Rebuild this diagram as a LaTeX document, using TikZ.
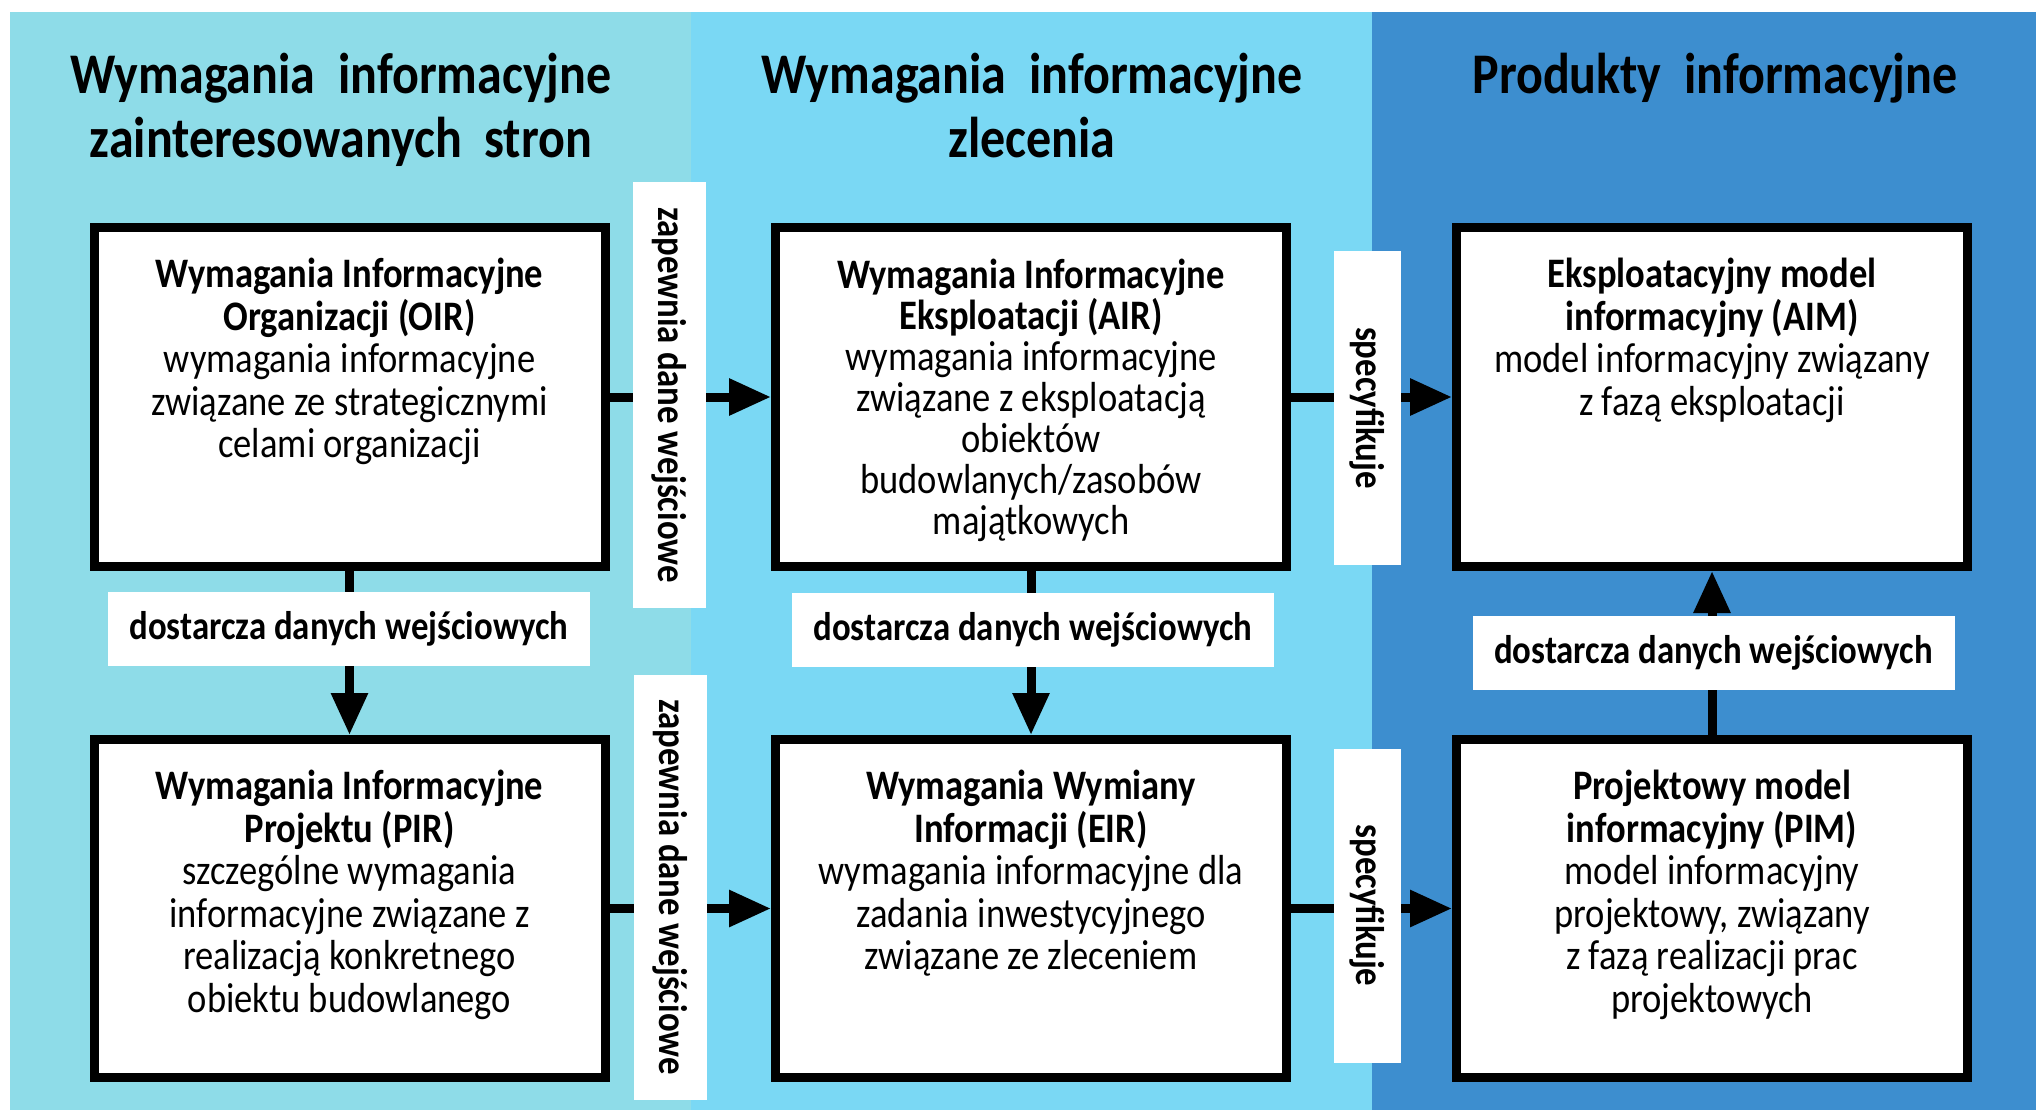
\documentclass[tikz,border=0pt]{standalone}
\usepackage{fontspec}
\setmainfont{Carlito}[FakeStretch=0.87]
\usetikzlibrary{arrows.meta}
\definecolor{colA}{RGB}{142,220,232}
\definecolor{colB}{RGB}{122,216,244}
\definecolor{colC}{RGB}{61,142,207}
\begin{document}
\begin{tikzpicture}[x=1pt,y=-1pt,
  box/.style={draw=black,line width=9pt,fill=white,minimum width=511pt,inner sep=0pt},
  boxtext/.style={anchor=north,align=center,inner sep=0pt,font=\fontsize{42pt}{42.5pt}\selectfont},
  vlabel/.style={fill=white,rotate=-90,minimum width=425pt,minimum height=73pt,inner sep=0pt,font=\bfseries\fontsize{40pt}{40pt}\selectfont},
  slabel/.style={fill=white,rotate=-90,minimum width=314pt,minimum height=67pt,inner sep=0pt,font=\bfseries\fontsize{40pt}{40pt}\selectfont},
  hlabel/.style={fill=white,minimum width=482pt,minimum height=74pt,inner sep=0pt,font=\bfseries\fontsize{40pt}{40pt}\selectfont},
  coltitle/.style={align=center,anchor=north,inner sep=0pt,font=\bfseries\fontsize{57.5pt}{64pt}\selectfont},
  link/.style={line width=9pt,-{Triangle[length=42pt,width=35pt]}},
]
\useasboundingbox (0,0) rectangle (2036,1110);
\fill[white] (0,0) rectangle (2036,1110);
\fill[colA] (10,12) rectangle (691,1110);
\fill[colB] (691,12) rectangle (1372,1110);
\fill[colC] (1372,12) rectangle (2036,1110);

\node[coltitle] (t1) at (341,53) {Wymagania~ informacyjne\\zainteresowanych~ stron};
\node[coltitle] (t2) at (1032,53) {Wymagania~ informacyjne\\zlecenia};
\node[coltitle] (t3) at (1715,53) {Produkty~ informacyjne};

\node[box,minimum height=339pt] (OIR) at (349.5,397) {};
\node[box,minimum height=339pt] (AIR) at (1031,397) {};
\node[box,minimum height=339pt] (AIM) at (1712,397) {};
\node[box,minimum height=338pt] (PIR) at (349.5,908.5) {};
\node[box,minimum height=338pt] (EIR) at (1031,908.5) {};
\node[box,minimum height=338pt] (PIM) at (1712,908.5) {};

\node[boxtext] (OIRt) at ([yshift=-35pt]OIR.north) {\textbf{Wymagania Informacyjne}\\\textbf{Organizacji (OIR)}\\wymagania informacyjne\\związane ze strategicznymi\\celami organizacji};
\node[boxtext,font=\fontsize{42pt}{41pt}\selectfont] (AIRt) at ([yshift=-36pt]AIR.north) {\textbf{Wymagania Informacyjne}\\\textbf{Eksploatacji (AIR)}\\wymagania informacyjne\\związane z eksploatacją\\obiektów\\budowlanych/zasobów\\majątkowych};
\node[boxtext] (AIMt) at ([yshift=-35pt]AIM.north) {\textbf{Eksploatacyjny model}\\\textbf{informacyjny (AIM)}\\model informacyjny związany\\z fazą eksploatacji};
\node[boxtext] (PIRt) at ([yshift=-35pt]PIR.north) {\textbf{Wymagania Informacyjne}\\\textbf{Projektu (PIR)}\\szczególne wymagania\\informacyjne związane z\\realizacją konkretnego\\obiektu budowlanego};
\node[boxtext] (EIRt) at ([yshift=-35pt]EIR.north) {\textbf{Wymagania Wymiany}\\\textbf{Informacji (EIR)}\\wymagania informacyjne dla\\zadania inwestycyjnego\\związane ze zleceniem};
\node[boxtext] (PIMt) at ([yshift=-35pt]PIM.north) {\textbf{Projektowy model}\\\textbf{informacyjny (PIM)}\\model informacyjny\\projektowy, związany\\z fazą realizacji prac\\projektowych};

\draw[link] (OIR.east) -- (AIR.west);
\draw[link] (PIR.east) -- (EIR.west);
\draw[link] (AIR.east) -- (AIM.west);
\draw[link] (EIR.east) -- (PIM.west);
\draw[link] (OIR.south) -- (PIR.north);
\draw[link] (AIR.south) -- (EIR.north);
\draw[link] (PIM.north) -- (AIM.south);

\node[vlabel] (z1) at (669,395) {zapewnia dane wejściowe};
\node[vlabel] (z2) at (670,887) {zapewnia dane wejściowe};
\node[slabel] (s1) at (1367.5,408) {specyfikuje};
\node[slabel] (s2) at (1367.5,905.5) {specyfikuje};
\node[hlabel] (d1) at (349,628.5) {dostarcza danych wejściowych};
\node[hlabel] (d2) at (1033,630) {dostarcza danych wejściowych};
\node[hlabel] (d3) at (1713.5,653) {dostarcza danych wejściowych};
\end{tikzpicture}
\end{document}
